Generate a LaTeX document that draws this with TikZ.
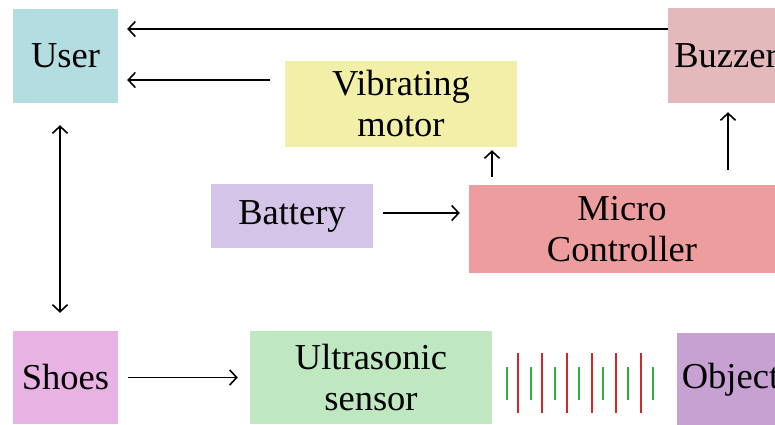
\documentclass[tikz,border=0pt]{standalone}
\usepackage{fontspec}
\setmainfont{Liberation Serif}
\newfontfamily\tnr{Liberation Serif}
\usetikzlibrary{arrows.meta}
\definecolor{cUser}{HTML}{B3DDE0}
\definecolor{cVib}{HTML}{F2F0A8}
\definecolor{cBuz}{HTML}{E3B9BB}
\definecolor{cBat}{HTML}{D3C4E8}
\definecolor{cMC}{HTML}{EE9D9E}
\definecolor{cShoe}{HTML}{E8B2E2}
\definecolor{cUS}{HTML}{BFE8C0}
\definecolor{cObj}{HTML}{C7A1D2}
\definecolor{wgreen}{HTML}{2DB040}
\definecolor{wred}{HTML}{D02828}
\tikzset{
  blk/.style={rectangle, inner sep=0pt, align=center, font=\tnr\fontsize{36.5}{41}\selectfont},
  arr/.style={line width=1.8pt, -{Straight Barb[length=7pt,width=15pt,line width=1.6pt]}},
  darr/.style={line width=1.8pt, {Straight Barb[length=7pt,width=15pt,line width=1.6pt]}-{Straight Barb[length=7pt,width=15pt,line width=1.6pt]}},
  gw/.style={wgreen, line width=2pt},
  rw/.style={wred, line width=2pt}
}
\begin{document}
\begin{tikzpicture}[x=1pt,y=-1pt]
\useasboundingbox (0,0) rectangle (775,424);
\clip (0,0) rectangle (775,424);
\node[blk, fill=cUser, minimum width=105pt, minimum height=94pt] (user) at (65.5,56) {User};
\node[blk, fill=cVib, minimum width=232pt, minimum height=86pt] (vib) at (401,104) {Vibrating\\motor};
\node[blk, fill=cBuz, minimum width=116pt, minimum height=95pt] (buz) at (726,55.5) {Buzzer};
\node[blk, fill=cBat, minimum width=162pt, minimum height=64pt] (bat) at (292,216) {Battery};
\node[blk, fill=cMC, minimum width=306pt, minimum height=88pt] (mc) at (622,229) {Micro\\Controller};
\node[blk, fill=cShoe, minimum width=105pt, minimum height=93pt] (shoes) at (65.5,377.5) {Shoes};
\node[blk, fill=cUS, minimum width=242pt, minimum height=93pt] (us) at (371,377.5) {Ultrasonic\\sensor};
\node[blk, fill=cObj, minimum width=107pt, minimum height=93pt] (obj) at (730.5,379.5) {Object};
% connectors
\draw[arr, shorten >=9pt] ([yshift=26.5pt]buz.west) -- ([yshift=26.5pt]buz.west -| user.east);
\coordinate (a) at ([xshift=-15pt,yshift=24pt]vib.west);
\draw[arr, shorten >=9pt] (a) -- (a -| user.east);
\coordinate (v1) at (492,0);
\draw[arr, shorten <=8pt, shorten >=3pt] (v1 |- mc.north) -- (v1 |- vib.south);
\coordinate (v2) at (728,0);
\draw[arr, shorten <=15pt, shorten >=9pt] (v2 |- mc.north) -- (v2 |- buz.south);
\draw[arr, shorten <=10pt, shorten >=9pt] ([yshift=3pt]bat.east) -- ([yshift=3pt]bat.east -| mc.west);
\coordinate (v3) at (60,0);
\draw[darr, shorten <=22pt, shorten >=18pt] (v3 |- user.south) -- (v3 |- shoes.north);
\draw[arr, shorten <=10pt, shorten >=12pt] (shoes.east) -- (us.west);
% waves
\foreach \x in {507,531,555,579,603,628,653} \draw[gw] (\x,367) -- (\x,400);
\foreach \x in {518,542,567,592,616,641} \draw[rw] (\x,353) -- (\x,413);
\end{tikzpicture}
\end{document}
